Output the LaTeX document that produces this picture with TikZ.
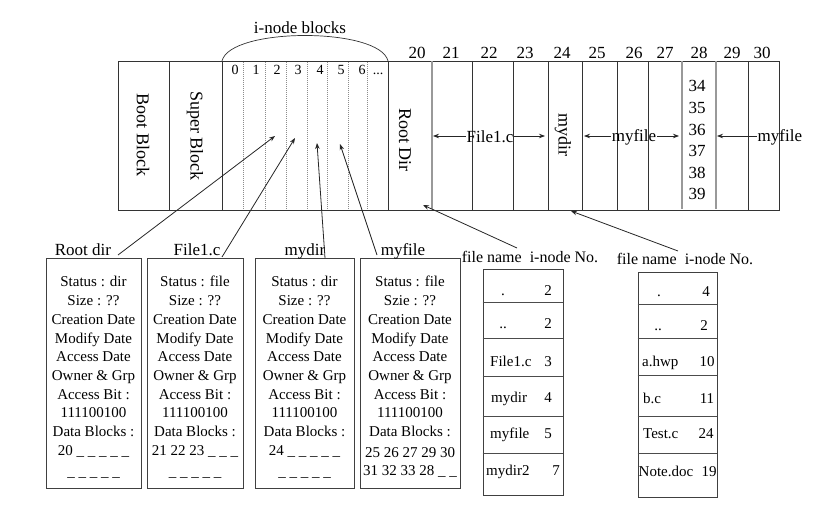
\documentclass[tikz,border=0pt]{standalone}
\usepackage{fontspec}
\setmainfont{Liberation Serif}
\usetikzlibrary{arrows.meta}
\newcommand{\myfs}[1]{\fontsize{#1}{#1}\selectfont}
\begin{document}
\begin{tikzpicture}[x=1pt,y=-1pt,
  ln/.style={draw=black!80,line width=0.9pt},
  gln/.style={draw=black!40,line width=1.3pt},
  dln/.style={draw=black!45,line width=0.6pt,dash pattern=on 1pt off 1pt},
  arr/.style={draw=black!85,line width=0.8pt,-{Stealth[length=6pt,width=4.5pt]}},
  bigt/.style={font=\myfs{17},inner sep=0.5pt},
  rott/.style={font=\myfs{18},rotate=-90,inner sep=0pt},
  lab/.style={font=\myfs{17},anchor=base,inner sep=0pt},
  bt/.style={font=\myfs{15},anchor=base,inner sep=0pt},
  tt/.style={font=\myfs{15},anchor=base,inner sep=0pt},
  tw/.style={font=\myfs{15},anchor=base west,inner sep=0pt},
  ibox/.style={draw=black!75,line width=0.9pt,inner sep=0pt}
]
\useasboundingbox (0,0) rectangle (831,508);

% ---------- disk strip ----------
\draw[ln] (118,61) rectangle (779,210);
\foreach \x in {169,222,388,472,513,548,582,617,648,748}
  \draw[ln] (\x,61) -- (\x,210);
\foreach \x in {432,682,716}
  \draw[gln] (\x,61.5) -- (\x,209.5);
\foreach \x in {243,265,286,307,327,348,367}
  \draw[dln] (\x,62) -- (\x,209);

% i-node blocks arc
\draw[ln,line width=0.7pt] (222,61) .. controls (230,27) and (380,27) .. (388,61);
\node[font=\myfs{17},anchor=base,inner sep=0pt] (inl) at (300,34) {i-node blocks};

% block numbers
\foreach \x/\n in {417/20,451/21,489/22,525/23,562/24,597/25,634/26,665/27,699/28,732/29,762/30}
  \node[font=\myfs{17},anchor=base,inner sep=0pt] (num\n) at (\x,59) {\n};
\foreach \x/\n in {235/0,256/1,277/2,298/3,320/4,341/5,362/6}
  \node[font=\myfs{14},anchor=base,inner sep=0pt] (ino\n) at (\x,75) {\n};
\node[font=\myfs{14},anchor=base,inner sep=0pt] (inodots) at (378,75) {...};
\foreach \n [count=\i from 0] in {34,35,36,37,38,39}
  \node[font=\myfs{17},anchor=base,inner sep=0pt] (ind\n) at (697,92+21.6*\i) {\n};

% rotated block labels
\node[rott] (bootT) at (143,135) {Boot Block};
\node[rott] (superT) at (195,136) {Super Block};
\node[rott] (rootT) at (405,140) {Root Dir};
\node[rott] (mydirT) at (563,135) {mydir};

% arrows inside strip
\node[bigt] (sf1) at (490,136.5) {File1.c};
\coordinate (sf1l) at (433,136);
\coordinate (sf1r) at (545,136);
\draw[arr] (sf1l -| sf1.west) -- (sf1l);
\draw[arr] (sf1r -| sf1.east) -- (sf1r);
\node[bigt] (smf) at (634,137.5) {myfile};
\coordinate (smfl) at (584,136);
\coordinate (smfr) at (679,136);
\draw[arr] (smfl -| smf.west) -- (smfl);
\draw[arr] (smfr -| smf.east) -- (smfr);
\node[bigt,anchor=west] (smf2) at (757,137.5) {myfile};
\coordinate (smf2l) at (717,136);
\draw[arr] (smf2l -| smf2.west) -- (smf2l);

% ---------- i-node boxes ----------
\node[ibox,minimum width=95,minimum height=230] (b1) at (93.5,373) {};
\node[ibox,minimum width=96,minimum height=230] (b2) at (195,373) {};
\node[ibox,minimum width=99,minimum height=230] (b3) at (304.5,373.5) {};
\node[ibox,minimum width=100,minimum height=230] (b4) at (410,373) {};

\foreach \t [count=\i from 0] in {Status : dir,Size : ??,Creation Date,Modify Date,Access Date,Owner \& Grp,Access Bit :,111100100,Data Blocks :,20 \_ \_ \_ \_ \_}
  \node[bt] (ba\i) at (93.5,287+18.7*\i) {\t};
\node[bt] (ba10) at (93.5,476) {\_ \_ \_ \_ \_};
\foreach \t [count=\i from 0] in {Status : file,Size : ??,Creation Date,Modify Date,Access Date,Owner \& Grp,Access Bit :,111100100,Data Blocks :,21 22 23 \_ \_ \_}
  \node[bt] (bb\i) at (195,287+18.7*\i) {\t};
\node[bt] (bb10) at (195,476) {\_ \_ \_ \_ \_};
\foreach \t [count=\i from 0] in {Status : dir,Size : ??,Creation Date,Modify Date,Access Date,Owner \& Grp,Access Bit :,111100100,Data Blocks :,24 \_ \_ \_ \_ \_}
  \node[bt] (bc\i) at (304.5,287+18.7*\i) {\t};
\node[bt] (bc10) at (304.5,476) {\_ \_ \_ \_ \_};
\foreach \t [count=\i from 0] in {Status : file,Szie : ??,Creation Date,Modify Date,Access Date,Owner \& Grp,Access Bit :,111100100,Data Blocks :}
  \node[bt] (bd\i) at (410,287+18.7*\i) {\t};
\node[bt] (bd9) at (410,457) {25 26 27 29 30};
\node[bt] (bd10) at (410,475) {31 32 33 28 \_ \_};

% labels above boxes
\node[lab] (lrd) at (83,255) {Root dir};
\node[lab] (lf1) at (197,255) {File1.c};
\node[lab] (lmd) at (305,255) {mydir};
\node[lab] (lmf) at (403,255) {myfile};

% arrows to i-node blocks
\coordinate (t1) at (118,255);
\coordinate (t2) at (222,257);
\coordinate (t3) at (325,258);
\coordinate (t4) at (377,255);
\coordinate (p1) at (275,136);
\coordinate (p2) at (295,138);
\coordinate (p3) at (317,143);
\coordinate (p4) at (340,144);
\draw[arr] (t1) -- (p1);
\draw[arr] (t2) -- (p2);
\draw[arr] (t3) -- (p3);
\draw[arr] (t4) -- (p4);

% ---------- directory tables ----------
\node[font=\myfs{16},anchor=base,inner sep=0pt] (h1) at (530,262) {file name\ \ i-node No.};
\node[font=\myfs{16},anchor=base,inner sep=0pt] (h2) at (685,265) {file name\ \ i-node No.};

\node[ibox,minimum width=80,minimum height=226] (tb1) at (523,382) {};
\foreach \y in {302,338,376,416,453}
  \draw[ln,draw=black!70] (tb1.west |- 0,\y) -- (tb1.east |- 0,\y);
\node[ibox,minimum width=79,minimum height=225] (tb2) at (677.5,384.5) {};
\foreach \y in {304,338,375,416,453}
  \draw[ln,draw=black!70] (tb2.west |- 0,\y) -- (tb2.east |- 0,\y);

% table 1 rows
\node[tt] (r1a) at (503,295) {.};
\node[tt] (r1b) at (548,295) {2};
\node[tt] (r2a) at (503,328) {..};
\node[tt] (r2b) at (548,328) {2};
\node[tw] (r3a) at (490,366) {File1.c};
\node[tt] (r3b) at (548,366) {3};
\node[tw] (r4a) at (491,402) {mydir};
\node[tt] (r4b) at (548,402) {4};
\node[tw] (r5a) at (490,438) {myfile};
\node[tt] (r5b) at (548,438) {5};
\node[tw] (r6a) at (486,475) {mydir2};
\node[tt] (r6b) at (556,475) {7};

% table 2 rows
\node[tt] (s1a) at (659,296) {.};
\node[tt] (s1b) at (706,296) {4};
\node[tt] (s2a) at (658,330) {..};
\node[tt] (s2b) at (704,330) {2};
\node[tw] (s3a) at (642,366) {a.hwp};
\node[tt] (s3b) at (707,366) {10};
\node[tw] (s4a) at (643,403) {b.c};
\node[tt] (s4b) at (707,403) {11};
\node[tw] (s5a) at (643,438) {Test.c};
\node[tt] (s5b) at (706,438) {24};
\node[tw] (s6a) at (638.5,476) {Note.doc};
\node[tt] (s6b) at (709,476) {19};

% arrows from tables to data blocks
\coordinate (q1) at (517,248);
\coordinate (q2) at (678,251);
\coordinate (d1) at (423,205);
\coordinate (d2) at (571,211);
\draw[arr] (q1) -- (d1);
\draw[arr] (q2) -- (d2);
\end{tikzpicture}
\end{document}
